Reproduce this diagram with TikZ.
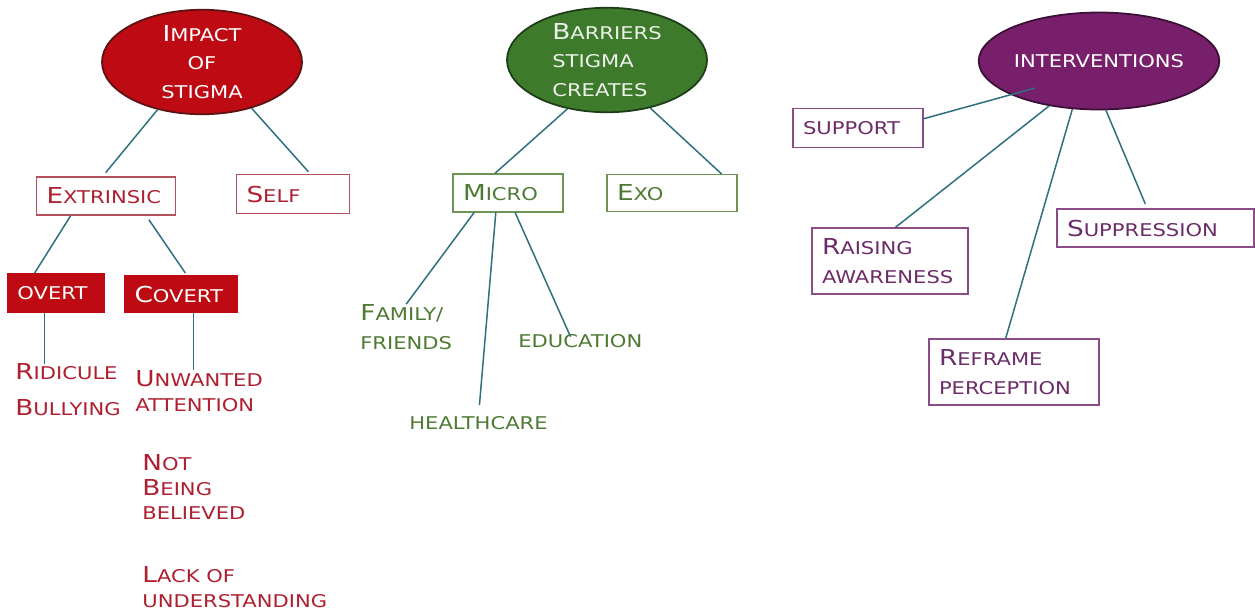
\documentclass[tikz,border=0pt]{standalone}
\usepackage{fontspec}
\setmainfont{DejaVu Sans}[FakeStretch=1.2]
\usetikzlibrary{shapes.geometric}

\definecolor{impfill}{HTML}{BE0A12}
\definecolor{impline}{HTML}{5A1414}
\definecolor{imptext}{HTML}{AE2030}
\definecolor{impbox}{HTML}{B4505A}
\definecolor{barfill}{HTML}{3E7A2B}
\definecolor{barline}{HTML}{1E3C18}
\definecolor{bartext}{HTML}{4E7A34}
\definecolor{barbox}{HTML}{6E9455}
\definecolor{intfill}{HTML}{771F6B}
\definecolor{intline}{HTML}{3A1035}
\definecolor{inttext}{HTML}{6C2C68}
\definecolor{intbox}{HTML}{8C4C88}
\definecolor{linkcol}{HTML}{2F6F80}

% bigger first capital
\newcommand\Up[1]{{\fontsize{12.5}{15}\selectfont #1}}

\begin{document}
\begin{tikzpicture}[x=0.2mm, y=-0.2mm]
                \tikzstyle{hub}=[ellipse, draw, line width=1pt, minimum width=40mm, minimum height=19.4mm, inner sep=0pt, font=\fontsize{10}{16.4}\selectfont]
                \tikzstyle{box}=[draw, rectangle, line width=0.6pt, inner xsep=2mm, inner ysep=0pt, align=left, font=\fontsize{10}{16.4}\selectfont]
                \tikzstyle{lbl}=[inner sep=0pt, anchor=west, align=left, font=\fontsize{10}{14.2}\selectfont]
                \tikzstyle{link}=[draw=linkcol, line width=0.85pt]

                \useasboundingbox (0,0) rectangle (1255,611);

                % impact of stigma
                \node[hub, fill=impfill, draw=impline, text=white, align=center] (imp) at (202,62) {\Up{I}MPACT\\OF\\STIGMA};
                \node[box, draw=impbox, text=imptext, text width=23.8mm, minimum height=7.6mm] (extr) at (106,196) {\Up{E}XTRINSIC};
                \node[box, draw=impbox, text=imptext, text width=18.6mm, minimum height=7.8mm] (self) at (293,194) {\Up{S}ELF};
                \node[box, draw=impfill, fill=impfill, text=white, text width=15.4mm, minimum height=7.6mm] (overt) at (56,293) {OVERT};
                \node[box, draw=impfill, fill=impfill, text=white, text width=18.6mm, minimum height=7.2mm] (covert) at (181,294) {\Up{C}OVERT};
                \node[lbl, text=imptext] (rid) at (15,372) {\Up{R}IDICULE};
                \node[lbl, text=imptext] (bul) at (15,408) {\Up{B}ULLYING};
                \node[lbl, text=imptext] (unw) at (135,391) {\Up{U}NWANTED\\ATTENTION};
                \node[lbl, text=imptext] (notb) at (142,487) {\Up{N}OT\\\Up{B}EING\\BELIEVED};
                \node[lbl, text=imptext] (lack) at (142,587) {\Up{L}ACK OF\\UNDERSTANDING};

                % barriers
                \node[hub, fill=barfill, draw=barline, text=white!90!barfill, align=left] (bar) at (607,60) {\Up{B}ARRIERS\\STIGMA\\CREATES};
                \node[box, draw=barbox, text=bartext, text width=18mm, minimum height=7.6mm] (micro) at (508,193) {\Up{M}ICRO};
                \node[box, draw=barbox, text=bartext, text width=22mm, minimum height=7.4mm] (exo) at (672,193) {\Up{E}XO};
                \node[lbl, text=bartext, font=\fontsize{10}{16.4}\selectfont] (fam) at (360,327) {\Up{F}AMILY/\\FRIENDS};
                \node[lbl, text=bartext] (edu) at (518,341) {EDUCATION};
                \node[lbl, text=bartext] (hlth) at (409,423) {HEALTHCARE};

                % interventions
                \node[hub, fill=intfill, draw=intline, text=white, minimum width=40.8mm] (inter) at (1099,61) {INTERVENTIONS};
                \node[box, draw=intbox, text=inttext, text width=22mm, minimum height=7.8mm] (sup) at (858,128) {SUPPORT};
                \node[box, draw=intbox, text=inttext, text width=27.2mm, minimum height=13.2mm] (rais) at (890,261) {\Up{R}AISING\\AWARENESS};
                \node[box, draw=intbox, text=inttext, text width=30mm, minimum height=13.2mm] (refr) at (1014,372) {\Up{R}EFRAME\\PERCEPTION};
                \node[box, draw=intbox, text=inttext, text width=35.4mm, minimum height=7.6mm] (supp) at (1155.5,228) {\Up{S}UPPRESSION};

                \draw[link, shorten >=1mm] (imp.227) -- (extr.100);
                \draw[link, shorten >=0.6mm] (imp.317) -- (self.49);
                \draw[link] (extr.209) -- (overt.138);
                \draw[link, shorten <=1mm, shorten >=0.6mm] (extr.334) -- (covert.72);
                \draw[link] (overt.240) -- (overt.240 |- rid.north);
                \draw[link] (covert.304) -- (covert.304 |- unw.north);

                \draw[link] (bar.231) -- (micro.124);
                \draw[link] (bar.312) -- (exo.21);
                \draw[link] (micro.210) -- (fam.north);
                \draw[link, shorten >=2.2mm] (micro.238) -- (hlth.north);
                \draw[link, shorten >=-0.6mm] (micro.290) -- ([xshift=-2.2mm]edu.north);

                \draw[link] ([xshift=-12.8mm, yshift=-5.4mm]inter.center) -- (sup.8);
                \draw[link] (inter.222) -- (rais.81);
                \draw[link] (inter.241) -- (refr.104);
                \draw[link, shorten >=1mm] (inter.278) -- (supp.113);
            \end{tikzpicture}
\end{document}
